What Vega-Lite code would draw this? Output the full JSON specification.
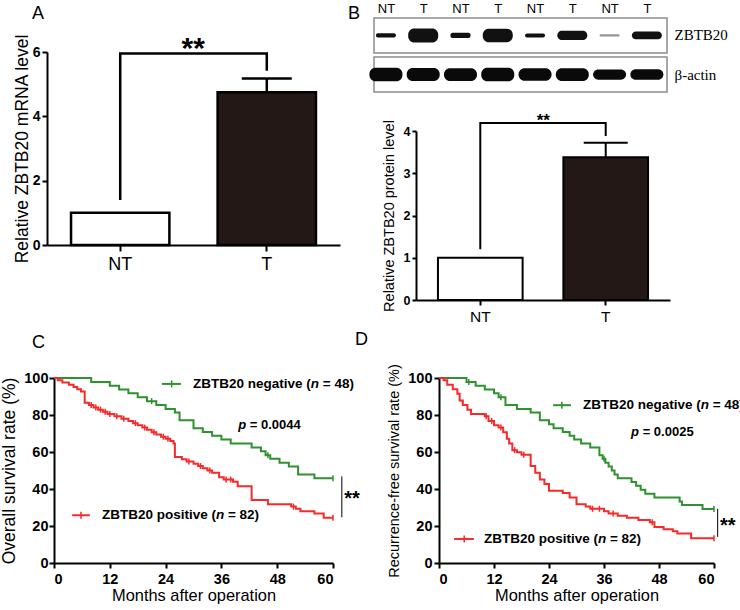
{
  "$schema": "https://vega.github.io/schema/vega-lite/v6.json",
  "background": "white",
  "padding": {"left": 0, "top": 2, "right": 0, "bottom": 0},
  "datasets": {
    "mrna": [{"group": "NT", "mean": 1.0, "upper": 1.0}, {"group": "T", "mean": 4.75, "upper": 5.18}],
    "protein": [{"group": "NT", "mean": 1.0, "upper": 1.0}, {"group": "T", "mean": 3.38, "upper": 3.72}],
    "sigA": [{"group": "NT", "y": 1.4, "step": 1}, {"group": "NT", "y": 5.95, "step": 2}, {"group": "T", "y": 5.95, "step": 3}, {"group": "T", "y": 5.42, "step": 4}],
    "sigB": [{"group": "NT", "y": 1.2, "step": 1}, {"group": "NT", "y": 4.19, "step": 2}, {"group": "T", "y": 4.19, "step": 3}, {"group": "T", "y": 3.88, "step": 4}],
    "frames": [{"protein": "ZBTB20"}, {"protein": "β-actin"}],
    "blot": [
      {"lane": 1, "label": "NT", "protein": "ZBTB20", "signal": 0.22},
      {"lane": 2, "label": "T", "protein": "ZBTB20", "signal": 1.0},
      {"lane": 3, "label": "NT", "protein": "ZBTB20", "signal": 0.3},
      {"lane": 4, "label": "T", "protein": "ZBTB20", "signal": 0.97},
      {"lane": 5, "label": "NT", "protein": "ZBTB20", "signal": 0.2},
      {"lane": 6, "label": "T", "protein": "ZBTB20", "signal": 0.62},
      {"lane": 7, "label": "NT", "protein": "ZBTB20", "signal": 0.06},
      {"lane": 8, "label": "T", "protein": "ZBTB20", "signal": 0.5},
      {"lane": 1, "label": "NT", "protein": "β-actin", "signal": 0.95},
      {"lane": 2, "label": "T", "protein": "β-actin", "signal": 0.93},
      {"lane": 3, "label": "NT", "protein": "β-actin", "signal": 0.9},
      {"lane": 4, "label": "T", "protein": "β-actin", "signal": 0.95},
      {"lane": 5, "label": "NT", "protein": "β-actin", "signal": 0.88},
      {"lane": 6, "label": "T", "protein": "β-actin", "signal": 0.9},
      {"lane": 7, "label": "NT", "protein": "β-actin", "signal": 0.7},
      {"lane": 8, "label": "T", "protein": "β-actin", "signal": 0.72}
    ],
    "kmC": [
      {"group": "negative", "month": 0, "survival": 100}, {"group": "negative", "month": 8, "survival": 97.9}, {"group": "negative", "month": 12, "survival": 95.8}, {"group": "negative", "month": 14, "survival": 93.8}, {"group": "negative", "month": 16, "survival": 91.7}, {"group": "negative", "month": 18, "survival": 89.6}, {"group": "negative", "month": 20, "survival": 87.5}, {"group": "negative", "month": 22, "survival": 85.4}, {"group": "negative", "month": 24, "survival": 83.3}, {"group": "negative", "month": 26, "survival": 81.3}, {"group": "negative", "month": 27, "survival": 77.1}, {"group": "negative", "month": 30, "survival": 72.9}, {"group": "negative", "month": 32, "survival": 70.8}, {"group": "negative", "month": 34, "survival": 68.8}, {"group": "negative", "month": 36, "survival": 66.7}, {"group": "negative", "month": 38, "survival": 64.6}, {"group": "negative", "month": 42.5, "survival": 62.5}, {"group": "negative", "month": 44.5, "survival": 60.4}, {"group": "negative", "month": 45.5, "survival": 58.3}, {"group": "negative", "month": 46.5, "survival": 56.3}, {"group": "negative", "month": 48.5, "survival": 54.2}, {"group": "negative", "month": 50.5, "survival": 52.1}, {"group": "negative", "month": 52.5, "survival": 47.9}, {"group": "negative", "month": 56, "survival": 45.8}, {"group": "negative", "month": 60, "survival": 45.8},
      {"group": "positive", "month": 0, "survival": 100}, {"group": "positive", "month": 0.8, "survival": 98.8}, {"group": "positive", "month": 1.8, "survival": 97.6}, {"group": "positive", "month": 3.2, "survival": 96.3}, {"group": "positive", "month": 4.2, "survival": 95.1}, {"group": "positive", "month": 5, "survival": 93.9}, {"group": "positive", "month": 5.8, "survival": 92.7}, {"group": "positive", "month": 6.6, "survival": 86.6}, {"group": "positive", "month": 7.5, "survival": 85.4}, {"group": "positive", "month": 8.5, "survival": 84.1}, {"group": "positive", "month": 9.5, "survival": 82.9}, {"group": "positive", "month": 10.5, "survival": 81.7}, {"group": "positive", "month": 11.5, "survival": 80.5}, {"group": "positive", "month": 13, "survival": 79.3}, {"group": "positive", "month": 14.5, "survival": 78}, {"group": "positive", "month": 16, "survival": 76.8}, {"group": "positive", "month": 17, "survival": 75.6}, {"group": "positive", "month": 18, "survival": 74.4}, {"group": "positive", "month": 19, "survival": 73.2}, {"group": "positive", "month": 20, "survival": 72}, {"group": "positive", "month": 21, "survival": 70.7}, {"group": "positive", "month": 22, "survival": 69.5}, {"group": "positive", "month": 23, "survival": 68.3}, {"group": "positive", "month": 24, "survival": 67.1}, {"group": "positive", "month": 25, "survival": 65.9}, {"group": "positive", "month": 25.7, "survival": 64.6}, {"group": "positive", "month": 26, "survival": 57.3}, {"group": "positive", "month": 27.5, "survival": 56.1}, {"group": "positive", "month": 28.5, "survival": 54.9}, {"group": "positive", "month": 30, "survival": 53.7}, {"group": "positive", "month": 31, "survival": 52.4}, {"group": "positive", "month": 32, "survival": 51.2}, {"group": "positive", "month": 33, "survival": 50}, {"group": "positive", "month": 34, "survival": 48.8}, {"group": "positive", "month": 35.5, "survival": 46.3}, {"group": "positive", "month": 36.5, "survival": 45.1}, {"group": "positive", "month": 38.5, "survival": 43.9}, {"group": "positive", "month": 39.5, "survival": 41.5}, {"group": "positive", "month": 42.5, "survival": 34.1}, {"group": "positive", "month": 46, "survival": 31.7}, {"group": "positive", "month": 51, "survival": 30.5}, {"group": "positive", "month": 52, "survival": 29.3}, {"group": "positive", "month": 53, "survival": 28}, {"group": "positive", "month": 56, "survival": 26.8}, {"group": "positive", "month": 58, "survival": 24.4}, {"group": "positive", "month": 60, "survival": 24.4}
    ],
    "kmD": [
      {"group": "negative", "month": 0, "survival": 100}, {"group": "negative", "month": 6, "survival": 97.9}, {"group": "negative", "month": 8, "survival": 95.8}, {"group": "negative", "month": 10, "survival": 93.8}, {"group": "negative", "month": 12, "survival": 91.7}, {"group": "negative", "month": 13, "survival": 89.6}, {"group": "negative", "month": 14.5, "survival": 85.4}, {"group": "negative", "month": 17, "survival": 83.3}, {"group": "negative", "month": 20, "survival": 81.3}, {"group": "negative", "month": 22, "survival": 77.1}, {"group": "negative", "month": 24, "survival": 75}, {"group": "negative", "month": 25, "survival": 72.9}, {"group": "negative", "month": 27, "survival": 70.8}, {"group": "negative", "month": 28.5, "survival": 68.8}, {"group": "negative", "month": 29.5, "survival": 66.7}, {"group": "negative", "month": 31, "survival": 64.6}, {"group": "negative", "month": 33, "survival": 62.5}, {"group": "negative", "month": 35, "survival": 58.3}, {"group": "negative", "month": 35.7, "survival": 56.3}, {"group": "negative", "month": 36.3, "survival": 54.2}, {"group": "negative", "month": 37, "survival": 52.1}, {"group": "negative", "month": 37.7, "survival": 50}, {"group": "negative", "month": 38.3, "survival": 47.9}, {"group": "negative", "month": 39, "survival": 45.8}, {"group": "negative", "month": 42, "survival": 43.8}, {"group": "negative", "month": 43, "survival": 41.7}, {"group": "negative", "month": 44, "survival": 39.6}, {"group": "negative", "month": 45, "survival": 37.5}, {"group": "negative", "month": 47, "survival": 35.4}, {"group": "negative", "month": 52.5, "survival": 33.3}, {"group": "negative", "month": 53, "survival": 31.3}, {"group": "negative", "month": 57.5, "survival": 29.2}, {"group": "negative", "month": 60, "survival": 29.2},
      {"group": "positive", "month": 0, "survival": 100}, {"group": "positive", "month": 1, "survival": 98.8}, {"group": "positive", "month": 1.8, "survival": 96.3}, {"group": "positive", "month": 3, "survival": 93.9}, {"group": "positive", "month": 4, "survival": 91.5}, {"group": "positive", "month": 4.5, "survival": 87.8}, {"group": "positive", "month": 5.2, "survival": 85.4}, {"group": "positive", "month": 6.2, "survival": 82.9}, {"group": "positive", "month": 7, "survival": 80.5}, {"group": "positive", "month": 10, "survival": 79.3}, {"group": "positive", "month": 10.8, "survival": 76.8}, {"group": "positive", "month": 12, "survival": 74.4}, {"group": "positive", "month": 13, "survival": 73.2}, {"group": "positive", "month": 14, "survival": 70.7}, {"group": "positive", "month": 14.8, "survival": 67.1}, {"group": "positive", "month": 15.3, "survival": 64.6}, {"group": "positive", "month": 16, "survival": 61}, {"group": "positive", "month": 17, "survival": 59.8}, {"group": "positive", "month": 18, "survival": 58.5}, {"group": "positive", "month": 20, "survival": 52.4}, {"group": "positive", "month": 21, "survival": 48.8}, {"group": "positive", "month": 22, "survival": 45.1}, {"group": "positive", "month": 23, "survival": 42.7}, {"group": "positive", "month": 24, "survival": 39}, {"group": "positive", "month": 27, "survival": 37.8}, {"group": "positive", "month": 28.5, "survival": 35.4}, {"group": "positive", "month": 30, "survival": 31.7}, {"group": "positive", "month": 32, "survival": 30.5}, {"group": "positive", "month": 33, "survival": 29.3}, {"group": "positive", "month": 36, "survival": 28}, {"group": "positive", "month": 37, "survival": 26.8}, {"group": "positive", "month": 39, "survival": 25.6}, {"group": "positive", "month": 41, "survival": 24.4}, {"group": "positive", "month": 43.5, "survival": 23.2}, {"group": "positive", "month": 46, "survival": 22}, {"group": "positive", "month": 47, "survival": 19.5}, {"group": "positive", "month": 49, "survival": 18.3}, {"group": "positive", "month": 51, "survival": 17.1}, {"group": "positive", "month": 52, "survival": 15.9}, {"group": "positive", "month": 55, "survival": 13.4}, {"group": "positive", "month": 60, "survival": 13.4}
    ],
    "censC": [
      {"group": "negative", "month": 21, "survival": 87.5}, {"group": "negative", "month": 46, "survival": 58.3}, {"group": "negative", "month": 60, "survival": 45.8},
      {"group": "positive", "month": 8, "survival": 85.4}, {"group": "positive", "month": 9, "survival": 84.1}, {"group": "positive", "month": 10, "survival": 82.9}, {"group": "positive", "month": 11, "survival": 81.7}, {"group": "positive", "month": 12, "survival": 80.5}, {"group": "positive", "month": 13.5, "survival": 79.3}, {"group": "positive", "month": 15, "survival": 78}, {"group": "positive", "month": 17.5, "survival": 75.6}, {"group": "positive", "month": 19.5, "survival": 73.2}, {"group": "positive", "month": 21.5, "survival": 70.7}, {"group": "positive", "month": 23.5, "survival": 68.3}, {"group": "positive", "month": 24.5, "survival": 67.1}, {"group": "positive", "month": 29, "survival": 54.9}, {"group": "positive", "month": 31.5, "survival": 52.4}, {"group": "positive", "month": 33.5, "survival": 50}, {"group": "positive", "month": 37, "survival": 45.1}, {"group": "positive", "month": 38, "survival": 45.1}, {"group": "positive", "month": 51.5, "survival": 30.5}, {"group": "positive", "month": 60, "survival": 24.4}
    ],
    "censD": [
      {"group": "negative", "month": 6.5, "survival": 97.9}, {"group": "negative", "month": 13.5, "survival": 89.6}, {"group": "negative", "month": 36, "survival": 56.3}, {"group": "negative", "month": 60, "survival": 29.2},
      {"group": "positive", "month": 10.3, "survival": 79.3}, {"group": "positive", "month": 11.5, "survival": 76.8}, {"group": "positive", "month": 13.5, "survival": 73.2}, {"group": "positive", "month": 16.5, "survival": 61}, {"group": "positive", "month": 18.5, "survival": 58.5}, {"group": "positive", "month": 33.5, "survival": 29.3}, {"group": "positive", "month": 35, "survival": 29.3}, {"group": "positive", "month": 38, "survival": 26.8}, {"group": "positive", "month": 46.5, "survival": 22}, {"group": "positive", "month": 60, "survival": 13.4}
    ]
  },
  "bounds": "flush",
  "columns": 2,
  "spacing": {"row": 78, "column": 34},
  "concat": [
    {
      "width": 293,
      "height": 227,
      "title": {"text": "A", "anchor": "start", "frame": "group", "dx": -15, "fontSize": 18, "fontWeight": "normal", "offset": -5},
      "layer": [
        {
          "data": {"name": "mrna"},
          "mark": {"type": "bar", "stroke": "black", "strokeWidth": 2.5},
          "encoding": {
            "x": {"field": "group", "type": "nominal", "sort": ["NT", "T"], "scale": {"paddingInner": 0.329, "paddingOuter": 0.164},
              "axis": {"title": null, "labelAngle": 0, "labelFontSize": 18, "labelFontWeight": "normal", "tickSize": 6, "labelPadding": 4}},
            "y": {"field": "mean", "type": "quantitative", "scale": {"domain": [0, 6], "range": [227, 34], "nice": false},
              "axis": {"values": [0, 2, 4, 6], "tickCount": 20, "format": "d", "labelOverlap": false, "title": "Relative ZBTB20 mRNA level", "titleFontSize": 17.5, "titleFontWeight": "normal", "titlePadding": 1, "labelFontSize": 14, "labelFontWeight": "bold", "tickSize": 5, "labelPadding": 2}},
            "fill": {"field": "group", "type": "nominal", "scale": {"domain": ["NT", "T"], "range": ["#ffffff", "#231815"]}, "legend": null}
          }
        },
        {
          "data": {"name": "mrna"},
          "transform": [{"filter": "datum.upper > datum.mean"}],
          "mark": {"type": "rule", "strokeWidth": 2.5, "color": "black"},
          "encoding": {"x": {"field": "group", "type": "nominal"}, "y": {"field": "mean", "type": "quantitative"}, "y2": {"field": "upper"}}
        },
        {
          "data": {"name": "mrna"},
          "transform": [{"filter": "datum.upper > datum.mean"}],
          "mark": {"type": "tick", "orient": "horizontal", "size": 50, "thickness": 2.5, "color": "black", "opacity": 1},
          "encoding": {"x": {"field": "group", "type": "nominal"}, "y": {"field": "upper", "type": "quantitative"}}
        },
        {
          "data": {"name": "sigA"},
          "mark": {"type": "line", "color": "black", "strokeWidth": 2.5},
          "encoding": {"x": {"field": "group", "type": "nominal"}, "y": {"field": "y", "type": "quantitative"}, "order": {"field": "step", "type": "quantitative"}}
        },
        {
          "data": {"values": [{}]},
          "mark": {"type": "text", "text": "**", "fontSize": 30, "fontWeight": "bold", "baseline": "alphabetic", "dx": 73, "color": "black"},
          "encoding": {"x": {"datum": "NT"}, "y": {"datum": 5.8}}
        }
      ]
    },
    {
      "width": 296,
      "height": 282,
      "title": {"text": "B", "anchor": "start", "frame": "group", "dx": -26, "fontSize": 18, "fontWeight": "normal", "offset": -21},
      "resolve": {"scale": {"x": "independent", "y": "independent"}, "axis": {"x": "independent", "y": "independent"}},
      "layer": [
        {
          "layer": [
            {
              "data": {"name": "frames"},
              "mark": {"type": "rect", "fill": "white", "stroke": "#8c8c8c", "strokeWidth": 1.5},
              "encoding": {
                "y": {"field": "protein", "type": "nominal", "sort": ["ZBTB20", "β-actin"], "scale": {"range": [0, 74], "paddingInner": 0.103, "paddingOuter": 0},
                  "axis": {"orient": "right", "title": null, "domain": false, "ticks": false, "labelFont": "Liberation Serif", "labelFontSize": 15, "labelPadding": 4, "labelFontWeight": "normal"}},
                "x": {"datum": 0.68, "type": "quantitative", "scale": {"domain": [0.68, 8.54], "range": [0, 293], "nice": false, "zero": false},
                  "axis": {"orient": "top", "values": [1, 2, 3, 4, 5, 6, 7, 8], "tickCount": 20, "labelExpr": "datum.value % 2 == 1 ? 'NT' : 'T'", "labelOverlap": false, "domain": false, "ticks": false, "title": null, "labelFontSize": 13, "labelFontWeight": "normal", "labelPadding": 3}},
                "x2": {"datum": 8.54}
              }
            },
            {
              "data": {"name": "blot"},
              "transform": [{"filter": "datum.protein == 'ZBTB20' && datum.label == 'T'"}],
              "mark": {"type": "tick", "orient": "vertical", "thickness": 30, "color": "#111111", "opacity": 1, "cornerRadius": 6},
              "encoding": {
                "x": {"field": "lane", "type": "quantitative"},
                "y": {"field": "protein", "type": "nominal"},
                "size": {"field": "signal", "type": "quantitative", "scale": {"domain": [0, 1], "range": [1.5, 14]}, "legend": null}
              }
            },
            {
              "data": {"name": "blot"},
              "transform": [{"filter": "datum.protein == 'ZBTB20' && datum.label == 'NT'"}],
              "mark": {"type": "tick", "orient": "vertical", "thickness": 20, "color": "#111111", "cornerRadius": 2},
              "encoding": {
                "x": {"field": "lane", "type": "quantitative"},
                "y": {"field": "protein", "type": "nominal"},
                "size": {"field": "signal", "type": "quantitative", "scale": {"domain": [0, 1], "range": [1.5, 14]}, "legend": null},
                "opacity": {"field": "signal", "type": "quantitative", "scale": {"domain": [0, 0.2], "range": [0.2, 1], "clamp": true}, "legend": null}
              }
            },
            {
              "data": {"name": "blot"},
              "transform": [{"filter": "datum.protein == 'β-actin'"}],
              "mark": {"type": "tick", "orient": "vertical", "thickness": 33, "color": "#0a0a0a", "opacity": 1, "cornerRadius": 6},
              "encoding": {
                "x": {"field": "lane", "type": "quantitative"},
                "y": {"field": "protein", "type": "nominal"},
                "size": {"field": "signal", "type": "quantitative", "scale": {"domain": [0, 1], "range": [1.5, 14]}, "legend": null}
              }
            }
          ]
        },
        {
          "layer": [
            {
              "data": {"name": "protein"},
              "mark": {"type": "bar", "stroke": "black", "strokeWidth": 2},
              "encoding": {
                "x": {"field": "group", "type": "nominal", "sort": ["NT", "T"], "scale": {"range": [42, 296], "paddingInner": 0.325, "paddingOuter": 0.175},
                  "axis": {"orient": "bottom", "title": null, "labelAngle": 0, "labelFontSize": 15.5, "labelFontWeight": "normal", "tickSize": 5, "labelPadding": 4}},
                "y": {"field": "mean", "type": "quantitative", "scale": {"domain": [0, 4], "range": [282, 113], "nice": false},
                  "axis": {"orient": "left", "values": [0, 1, 2, 3, 4], "tickCount": 20, "format": "d", "labelOverlap": false, "offset": -42, "title": "Relative ZBTB20 protein level", "titleFontSize": 14.5, "titleFontWeight": "normal", "titlePadding": 7, "labelFontSize": 12.5, "labelFontWeight": "bold", "tickSize": 4, "labelPadding": 2}},
                "fill": {"field": "group", "type": "nominal", "scale": {"domain": ["NT", "T"], "range": ["#ffffff", "#231815"]}, "legend": null}
              }
            },
            {
              "data": {"name": "protein"},
              "transform": [{"filter": "datum.upper > datum.mean"}],
              "mark": {"type": "rule", "strokeWidth": 2, "color": "black"},
              "encoding": {"x": {"field": "group", "type": "nominal"}, "y": {"field": "mean", "type": "quantitative"}, "y2": {"field": "upper"}}
            },
            {
              "data": {"name": "protein"},
              "transform": [{"filter": "datum.upper > datum.mean"}],
              "mark": {"type": "tick", "orient": "horizontal", "size": 44, "thickness": 2, "color": "black", "opacity": 1},
              "encoding": {"x": {"field": "group", "type": "nominal"}, "y": {"field": "upper", "type": "quantitative"}}
            },
            {
              "data": {"name": "sigB"},
              "mark": {"type": "line", "color": "black", "strokeWidth": 2},
              "encoding": {"x": {"field": "group", "type": "nominal"}, "y": {"field": "y", "type": "quantitative"}, "order": {"field": "step", "type": "quantitative"}}
            },
            {
              "data": {"values": [{}]},
              "mark": {"type": "text", "text": "**", "fontSize": 17, "fontWeight": "bold", "baseline": "alphabetic", "dx": 63, "color": "black"},
              "encoding": {"x": {"datum": "NT"}, "y": {"datum": 4.12}}
            }
          ]
        }
      ]
    },
    {
      "width": 286,
      "height": 185,
      "title": {"text": "C", "anchor": "start", "frame": "group", "dx": -15, "fontSize": 18, "fontWeight": "normal", "offset": 18},
      "layer": [
        {
          "data": {"name": "kmC"},
          "mark": {"type": "line", "interpolate": "step-after", "strokeWidth": 2},
          "encoding": {
            "x": {"field": "month", "type": "quantitative", "scale": {"domain": [0, 60], "range": [7, 286], "nice": false},
              "axis": {"values": [0, 12, 24, 36, 48, 60], "tickCount": 20, "labelOverlap": false, "title": "Months after operation", "titleFontSize": 16.4, "titleFontWeight": "normal", "titlePadding": 2, "labelFontSize": 14.5, "labelFontWeight": "bold", "tickSize": 5, "labelPadding": 4}},
            "y": {"field": "survival", "type": "quantitative", "scale": {"domain": [0, 100], "range": [185, 0], "nice": false},
              "axis": {"values": [0, 20, 40, 60, 80, 100], "tickCount": 20, "labelOverlap": false, "offset": -7, "title": "Overall survival rate (%)", "titleFontSize": 17.5, "titleFontWeight": "normal", "titlePadding": 5, "labelFontSize": 14.5, "labelFontWeight": "bold", "tickSize": 5, "labelPadding": 1}},
            "color": {"field": "group", "type": "nominal", "scale": {"domain": ["negative", "positive"], "range": ["#2f912f", "#f62a2a"]}, "legend": null}
          }
        },
        {
          "data": {"name": "censC"},
          "mark": {"type": "tick", "orient": "vertical", "size": 6, "thickness": 1.5, "opacity": 1},
          "encoding": {"x": {"field": "month", "type": "quantitative"}, "y": {"field": "survival", "type": "quantitative"}, "color": {"field": "group", "type": "nominal", "legend": null}}
        },
        {"data": {"values": [{}]}, "mark": {"type": "rule", "color": "#2f912f", "strokeWidth": 2}, "encoding": {"x": {"datum": 23.2}, "x2": {"datum": 27.3}, "y": {"datum": 96.8}}},
        {"data": {"values": [{}]}, "mark": {"type": "tick", "orient": "vertical", "size": 7, "thickness": 1.5, "color": "#2f912f", "opacity": 1}, "encoding": {"x": {"datum": 25.3}, "y": {"datum": 96.8}}},
        {"data": {"values": [{}]}, "mark": {"type": "rule", "color": "#f62a2a", "strokeWidth": 2}, "encoding": {"x": {"datum": 3.9}, "x2": {"datum": 7.7}, "y": {"datum": 25.8}}},
        {"data": {"values": [{}]}, "mark": {"type": "tick", "orient": "vertical", "size": 7, "thickness": 1.5, "color": "#f62a2a", "opacity": 1}, "encoding": {"x": {"datum": 5.8}, "y": {"datum": 25.8}}},
        {"data": {"values": [{}]}, "mark": {"type": "text", "text": "ZBTB20 negative (", "align": "left", "baseline": "middle", "fontSize": 13.5, "fontWeight": "bold", "color": "black"}, "encoding": {"x": {"datum": 29.9}, "y": {"datum": 96.8}}},
        {"data": {"values": [{}]}, "mark": {"type": "text", "text": "n", "align": "left", "baseline": "middle", "fontSize": 13.5, "fontWeight": "bold", "fontStyle": "italic", "dx": 117.8, "color": "black"}, "encoding": {"x": {"datum": 29.9}, "y": {"datum": 96.8}}},
        {"data": {"values": [{}]}, "mark": {"type": "text", "text": "= 48)", "align": "left", "baseline": "middle", "fontSize": 13.5, "fontWeight": "bold", "dx": 129.8, "color": "black"}, "encoding": {"x": {"datum": 29.9}, "y": {"datum": 96.8}}},
        {"data": {"values": [{}]}, "mark": {"type": "text", "text": "ZBTB20 positive (", "align": "left", "baseline": "middle", "fontSize": 13.5, "fontWeight": "bold", "color": "black"}, "encoding": {"x": {"datum": 10.3}, "y": {"datum": 25.8}}},
        {"data": {"values": [{}]}, "mark": {"type": "text", "text": "n", "align": "left", "baseline": "middle", "fontSize": 13.5, "fontWeight": "bold", "fontStyle": "italic", "dx": 114, "color": "black"}, "encoding": {"x": {"datum": 10.3}, "y": {"datum": 25.8}}},
        {"data": {"values": [{}]}, "mark": {"type": "text", "text": "= 82)", "align": "left", "baseline": "middle", "fontSize": 13.5, "fontWeight": "bold", "dx": 126, "color": "black"}, "encoding": {"x": {"datum": 10.3}, "y": {"datum": 25.8}}},
        {"data": {"values": [{}]}, "mark": {"type": "text", "text": "p", "align": "left", "baseline": "middle", "fontSize": 13, "fontWeight": "bold", "fontStyle": "italic", "color": "black"}, "encoding": {"x": {"datum": 39.6}, "y": {"datum": 74.7}}},
        {"data": {"values": [{}]}, "mark": {"type": "text", "text": "= 0.0044", "align": "left", "baseline": "middle", "fontSize": 13, "fontWeight": "bold", "dx": 11.6, "color": "black"}, "encoding": {"x": {"datum": 39.6}, "y": {"datum": 74.7}}},
        {"data": {"values": [{}]}, "mark": {"type": "rule", "color": "black", "strokeWidth": 1}, "encoding": {"x": {"datum": 61.9}, "y": {"datum": 46.8}, "y2": {"datum": 24.7}}},
        {"data": {"values": [{}]}, "mark": {"type": "text", "text": "**", "align": "left", "baseline": "alphabetic", "fontSize": 20, "fontWeight": "bold", "color": "black"}, "encoding": {"x": {"datum": 62.4}, "y": {"datum": 31.4}}}
      ]
    },
    {
      "width": 340,
      "height": 185,
      "title": {"text": "D", "anchor": "start", "frame": "group", "dx": -19, "fontSize": 18, "fontWeight": "normal", "offset": 15},
      "layer": [
        {
          "data": {"name": "kmD"},
          "mark": {"type": "line", "interpolate": "step-after", "strokeWidth": 2},
          "encoding": {
            "x": {"field": "month", "type": "quantitative", "scale": {"domain": [0, 60], "range": [65, 340], "nice": false},
              "axis": {"values": [0, 12, 24, 36, 48, 60], "tickCount": 20, "labelOverlap": false, "title": "Months after operation", "titleFontSize": 16.4, "titleFontWeight": "normal", "titlePadding": 2, "labelFontSize": 14.5, "labelFontWeight": "bold", "tickSize": 5, "labelPadding": 4}},
            "y": {"field": "survival", "type": "quantitative", "scale": {"domain": [0, 100], "range": [185, 0], "nice": false},
              "axis": {"values": [0, 20, 40, 60, 80, 100], "tickCount": 20, "labelOverlap": false, "offset": -65, "title": "Recurrence-free survival rate (%)", "titleFontSize": 14.5, "titleFontWeight": "normal", "titlePadding": 6, "labelFontSize": 14.5, "labelFontWeight": "bold", "tickSize": 5, "labelPadding": 2}},
            "color": {"field": "group", "type": "nominal", "scale": {"domain": ["negative", "positive"], "range": ["#2f912f", "#f62a2a"]}, "legend": null}
          }
        },
        {
          "data": {"name": "censD"},
          "mark": {"type": "tick", "orient": "vertical", "size": 6, "thickness": 1.5, "opacity": 1},
          "encoding": {"x": {"field": "month", "type": "quantitative"}, "y": {"field": "survival", "type": "quantitative"}, "color": {"field": "group", "type": "nominal", "legend": null}}
        },
        {"data": {"values": [{}]}, "mark": {"type": "rule", "color": "#2f912f", "strokeWidth": 2}, "encoding": {"x": {"datum": 24.9}, "x2": {"datum": 28.8}, "y": {"datum": 85.3}}},
        {"data": {"values": [{}]}, "mark": {"type": "tick", "orient": "vertical", "size": 7, "thickness": 1.5, "color": "#2f912f", "opacity": 1}, "encoding": {"x": {"datum": 26.8}, "y": {"datum": 85.3}}},
        {"data": {"values": [{}]}, "mark": {"type": "rule", "color": "#f62a2a", "strokeWidth": 2}, "encoding": {"x": {"datum": 3.3}, "x2": {"datum": 7.6}, "y": {"datum": 13.0}}},
        {"data": {"values": [{}]}, "mark": {"type": "tick", "orient": "vertical", "size": 7, "thickness": 1.5, "color": "#f62a2a", "opacity": 1}, "encoding": {"x": {"datum": 5.5}, "y": {"datum": 13.0}}},
        {"data": {"values": [{}]}, "mark": {"type": "text", "text": "ZBTB20 negative (", "align": "left", "baseline": "middle", "fontSize": 13.5, "fontWeight": "bold", "color": "black"}, "encoding": {"x": {"datum": 31.4}, "y": {"datum": 85.3}}},
        {"data": {"values": [{}]}, "mark": {"type": "text", "text": "n", "align": "left", "baseline": "middle", "fontSize": 13.5, "fontWeight": "bold", "fontStyle": "italic", "dx": 117.8, "color": "black"}, "encoding": {"x": {"datum": 31.4}, "y": {"datum": 85.3}}},
        {"data": {"values": [{}]}, "mark": {"type": "text", "text": "= 48)", "align": "left", "baseline": "middle", "fontSize": 13.5, "fontWeight": "bold", "dx": 129.8, "color": "black"}, "encoding": {"x": {"datum": 31.4}, "y": {"datum": 85.3}}},
        {"data": {"values": [{}]}, "mark": {"type": "text", "text": "ZBTB20 positive (", "align": "left", "baseline": "middle", "fontSize": 13.5, "fontWeight": "bold", "color": "black"}, "encoding": {"x": {"datum": 9.8}, "y": {"datum": 13.0}}},
        {"data": {"values": [{}]}, "mark": {"type": "text", "text": "n", "align": "left", "baseline": "middle", "fontSize": 13.5, "fontWeight": "bold", "fontStyle": "italic", "dx": 114, "color": "black"}, "encoding": {"x": {"datum": 9.8}, "y": {"datum": 13.0}}},
        {"data": {"values": [{}]}, "mark": {"type": "text", "text": "= 82)", "align": "left", "baseline": "middle", "fontSize": 13.5, "fontWeight": "bold", "dx": 126, "color": "black"}, "encoding": {"x": {"datum": 9.8}, "y": {"datum": 13.0}}},
        {"data": {"values": [{}]}, "mark": {"type": "text", "text": "p", "align": "left", "baseline": "middle", "fontSize": 13, "fontWeight": "bold", "fontStyle": "italic", "color": "black"}, "encoding": {"x": {"datum": 41.9}, "y": {"datum": 70.7}}},
        {"data": {"values": [{}]}, "mark": {"type": "text", "text": "= 0.0025", "align": "left", "baseline": "middle", "fontSize": 13, "fontWeight": "bold", "dx": 11.6, "color": "black"}, "encoding": {"x": {"datum": 41.9}, "y": {"datum": 70.7}}},
        {"data": {"values": [{}]}, "mark": {"type": "rule", "color": "black", "strokeWidth": 1}, "encoding": {"x": {"datum": 60.8}, "y": {"datum": 29.3}, "y2": {"datum": 14.1}}},
        {"data": {"values": [{}]}, "mark": {"type": "text", "text": "**", "align": "left", "baseline": "alphabetic", "fontSize": 20, "fontWeight": "bold", "color": "black"}, "encoding": {"x": {"datum": 61.3}, "y": {"datum": 17}}}
      ]
    }
  ],
  "config": {
    "font": "Liberation Sans",
    "view": {"stroke": null},
    "axis": {"grid": false, "labelOverlap": false, "domainColor": "black", "tickColor": "black", "labelColor": "black", "titleColor": "black", "domainWidth": 2, "tickWidth": 2, "labelFont": "Liberation Sans", "titleFont": "Liberation Sans"},
    "title": {"font": "Liberation Sans", "color": "black"}
  }
}
